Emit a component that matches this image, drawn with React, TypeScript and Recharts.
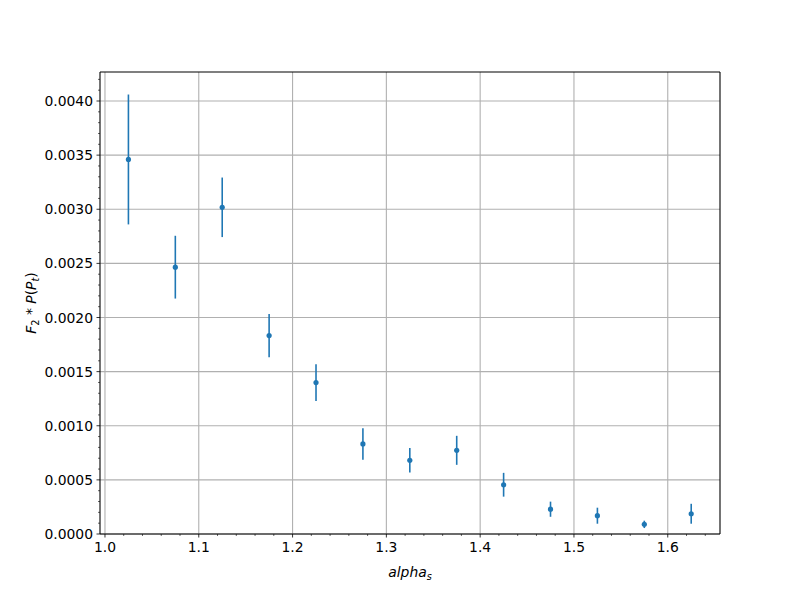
import React from 'react';
import { ComposedChart, Scatter, ErrorBar, XAxis, YAxis, ReferenceLine } from 'recharts';

const xValues = [1.025, 1.075, 1.125, 1.175, 1.225, 1.275, 1.325, 1.375, 1.425, 1.475, 1.525, 1.575, 1.625];
const yValues = [0.00346, 0.002465, 0.003018, 0.001833, 0.001399, 0.000832, 0.000681, 0.000773, 0.000455, 0.000229, 0.000169, 0.000089, 0.000187];
const yErrors = [0.0006, 0.00029, 0.000275, 0.0002, 0.00017, 0.000146, 0.000113, 0.000134, 0.00011, 0.00007, 0.000074, 0.000034, 0.000092];

const xMajorTicks = [1.0, 1.1, 1.2, 1.3, 1.4, 1.5, 1.6];
const yMajorTicks = [0, 0.0005, 0.001, 0.0015, 0.002, 0.0025, 0.003, 0.0035, 0.004];

const xDomain: [number, number] = [0.9947, 1.6557];
const yDomain: [number, number] = [0, 0.004268];

const xAllTicks: number[] = [];
for (let i = 50; i <= 165; i += 2) xAllTicks.push(i / 100);
const yAllTicks: number[] = [];
for (let i = 0; i <= 42; i += 1) yAllTicks.push(i / 10000);

const data = xValues.map((x, i) => ({ x, y: yValues[i], err: yErrors[i] }));

const FONT = 'DejaVu Sans';
const BLUE = '#1f77b4';

const isMajor = (v: number, majors: number[]) => majors.some((m) => Math.abs(m - v) < 1e-9);

const XTick = (props: any) => {
  const { x, y, payload } = props;
  const major = isMajor(payload.value, xMajorTicks);
  if (payload.value < xDomain[0] || payload.value > xDomain[1]) return <g />;
  return (
    <g>
      <line x1={x} x2={x} y1={y} y2={y + (major ? 3.5 : 2)} stroke="#000" strokeWidth={major ? 0.8 : 0.6} />
      {major && (
        <text x={x} y={y + 18} textAnchor="middle" fontFamily={FONT} fontSize={13.9} fill="#000">
          {payload.value.toFixed(1)}
        </text>
      )}
    </g>
  );
};

const YTick = (props: any) => {
  const { x, y, payload } = props;
  const major = isMajor(payload.value, yMajorTicks);
  return (
    <g>
      <line x1={x} x2={x - (major ? 3.5 : 2)} y1={y} y2={y} stroke="#000" strokeWidth={major ? 0.8 : 0.6} />
      {major && (
        <text x={x - 7} y={y + 5} textAnchor="end" fontFamily={FONT} fontSize={13.9} fill="#000">
          {payload.value.toFixed(4)}
        </text>
      )}
    </g>
  );
};

const XLabel = (props: any) => {
  const vb = props.viewBox || { x: 100, y: 534, width: 620, height: 66 };
  const cx = vb.x + vb.width / 2;
  return (
    <text x={cx} y={vb.y + 43} textAnchor="middle" fontFamily={FONT} fontSize={13.9} fill="#000">
      <tspan fontStyle="italic">alpha</tspan>
      <tspan fontStyle="italic" fontSize={9.7} dy={3}>s</tspan>
    </text>
  );
};

const YLabel = (props: any) => {
  const vb = props.viewBox || { x: 0, y: 72, width: 100, height: 462 };
  const cy = vb.y + vb.height / 2;
  const cx = 36;
  return (
    <text x={cx} y={cy} transform={`rotate(-90 ${cx} ${cy})`} textAnchor="middle" fontFamily={FONT} fontSize={13.9} fill="#000">
      <tspan fontStyle="italic">F</tspan>
      <tspan fontSize={9.7} dy={3}>2</tspan>
      <tspan dy={-3}> * </tspan>
      <tspan fontStyle="italic">P</tspan>
      <tspan>(</tspan>
      <tspan fontStyle="italic">P</tspan>
      <tspan fontStyle="italic" fontSize={9.7} dy={3}>t</tspan>
      <tspan dy={-3}>)</tspan>
    </text>
  );
};

export default function App() {
  return (
    <div style={{ position: 'absolute', left: 0, top: 0, width: 800, height: 600, background: '#fff' }}>
      <ComposedChart width={800} height={600} data={data} margin={{ top: 72, right: 80, left: 0, bottom: 0 }}>
        <XAxis
          xAxisId="main"
          type="number"
          dataKey="x"
          domain={xDomain}
          ticks={xAllTicks.filter((t) => t >= xDomain[0] && t <= xDomain[1])}
          allowDataOverflow
          height={66}
          tickSize={0}
          tickMargin={0}
          tick={<XTick />}
          axisLine={{ stroke: '#000', strokeWidth: 1.1 }}
          interval={0}
          label={<XLabel />}
        />
        <YAxis
          yAxisId="main"
          type="number"
          dataKey="y"
          domain={yDomain}
          ticks={yAllTicks}
          allowDataOverflow
          width={100}
          tickSize={0}
          tickMargin={0}
          tick={<YTick />}
          axisLine={{ stroke: '#000', strokeWidth: 1.1 }}
          interval={0}
          label={<YLabel />}
        />
        {xMajorTicks.map((t) => (
          <ReferenceLine key={'gx' + t} xAxisId="main" yAxisId="main" x={t} stroke="#b0b0b0" strokeWidth={1.1} />
        ))}
        {yMajorTicks.map((t) => (
          <ReferenceLine key={'gy' + t} xAxisId="main" yAxisId="main" y={t} stroke="#b0b0b0" strokeWidth={1.1} />
        ))}
        <ReferenceLine xAxisId="main" yAxisId="main" x={xDomain[1]} stroke="#000" strokeWidth={1.1} />
        <ReferenceLine xAxisId="main" yAxisId="main" y={yDomain[1]} stroke="#000" strokeWidth={1.1} />
        <Scatter
          xAxisId="main"
          yAxisId="main"
          dataKey="y"
          fill={BLUE}
          isAnimationActive={false}
          shape={(p: any) => <circle cx={p.cx} cy={p.cy} r={2.6} fill={BLUE} />}
        >
          <ErrorBar dataKey="err" direction="y" width={0} stroke={BLUE} strokeWidth={1.6} isAnimationActive={false} />
        </Scatter>
      </ComposedChart>
    </div>
  );
}
